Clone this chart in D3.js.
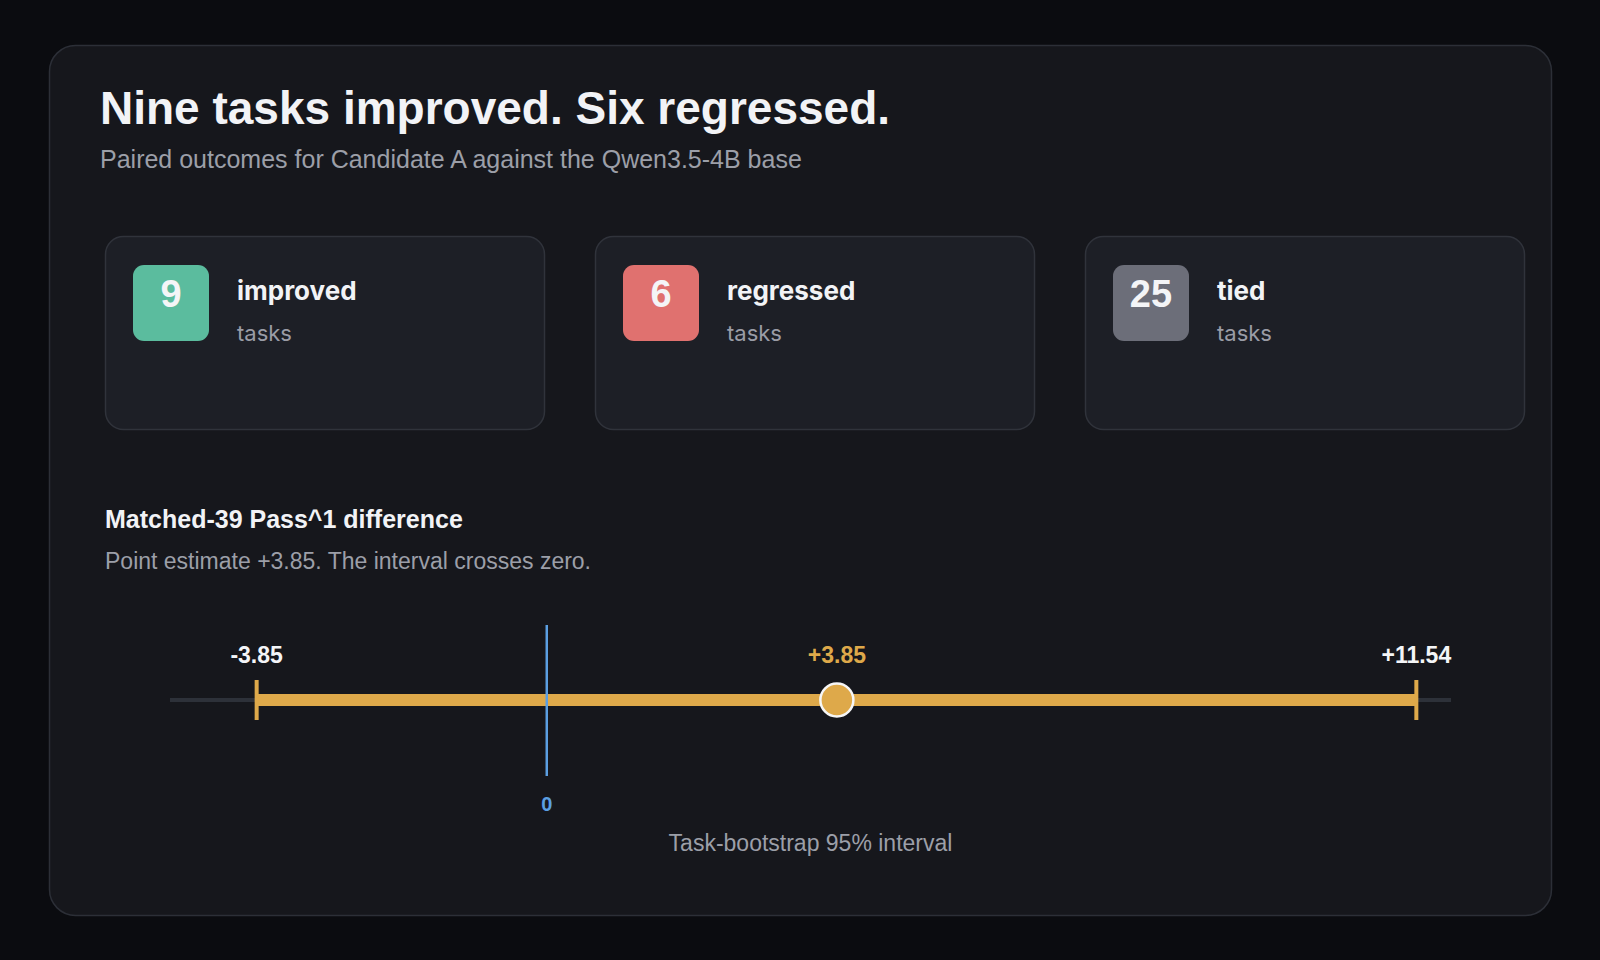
<!DOCTYPE html>
<html>
<head>
<meta charset="utf-8">
<script src="https://cdn.jsdelivr.net/npm/d3@7"></script>
<style>
  html, body { margin: 0; padding: 0; background: #0b0c10; }
  svg { display: block; }
</style>
</head>
<body>
<div id="chart"></div>
<script>
// outcome counts
const outcomeLabels = ["improved", "regressed", "tied"];
const outcomeCounts = [9, 6, 25];
const outcomeUnits = ["tasks", "tasks", "tasks"];
const outcomeColors = ["#5bbc9e", "#e0716f", "#6c6e79"];

// bootstrap interval (low, point, high)
const intervalValues = [-3.85, 3.85, 11.54];
const intervalLabels = ["-3.85", "+3.85", "+11.54"];
const axisDomain = [-5, 12];
const zeroValue = 0;

const W = 1600, H = 960;
const sans = "'Liberation Sans', Arial, Helvetica, sans-serif";
const inter = "Inter, 'Liberation Sans', Arial, sans-serif";

let svg = d3.select("#chart")
    .append("svg")
    .attr("width", W)
    .attr("height", H);

svg.append("rect")
    .attr("width", W).attr("height", H)
    .attr("fill", "#0b0c10");

// main panel
svg.append("rect")
    .attr("x", 49.5).attr("y", 45.5)
    .attr("width", 1502).attr("height", 870)
    .attr("rx", 26)
    .attr("fill", "#16171c")
    .attr("stroke", "#2c2f37")
    .attr("stroke-width", 1.5);

svg.append("text")
    .attr("x", 100).attr("y", 124)
    .attr("font-family", sans)
    .attr("font-size", 46)
    .attr("font-weight", 700)
    .attr("fill", "#f2f3f6")
    .text("Nine tasks improved. Six regressed.");

svg.append("text")
    .attr("x", 100).attr("y", 168)
    .attr("font-family", sans)
    .attr("font-size", 25)
    .attr("fill", "#9c9fa8")
    .text("Paired outcomes for Candidate A against the Qwen3.5-4B base");

// stat cards
let cardX = d3.scaleBand()
    .domain(outcomeLabels)
    .range([105, 1525])
    .paddingInner(50 / 490);

let cards = svg.selectAll("g.card")
    .data(outcomeLabels)
    .enter()
    .append("g")
    .attr("class", "card")
    .attr("transform", d => "translate(" + cardX(d) + ",236)");

cards.append("rect")
    .attr("x", 0.5).attr("y", 0.5)
    .attr("width", cardX.bandwidth() - 1)
    .attr("height", 193)
    .attr("rx", 18)
    .attr("fill", "#1d1f26")
    .attr("stroke", "#30333b")
    .attr("stroke-width", 1.5);

cards.append("rect")
    .attr("x", 28).attr("y", 29)
    .attr("width", 76).attr("height", 76)
    .attr("rx", 11)
    .attr("fill", (d, i) => outcomeColors[i]);

cards.append("text")
    .attr("x", 66).attr("y", 71)
    .attr("text-anchor", "middle")
    .attr("font-family", sans)
    .attr("font-size", 38)
    .attr("font-weight", 700)
    .attr("fill", "#f4f5f7")
    .text((d, i) => outcomeCounts[i]);

cards.append("text")
    .attr("x", 132).attr("y", 64)
    .attr("font-family", inter)
    .attr("font-size", 26)
    .attr("font-weight", 700)
    .attr("fill", "#f2f3f6")
    .text(d => d);

cards.append("text")
    .attr("x", 132).attr("y", 105)
    .attr("font-family", inter)
    .attr("font-size", 22)
    .attr("fill", "#9a9ca6")
    .text((d, i) => outcomeUnits[i]);

// interval section
svg.append("text")
    .attr("x", 105).attr("y", 528)
    .attr("font-family", sans)
    .attr("font-size", 25)
    .attr("font-weight", 700)
    .attr("fill", "#f2f3f6")
    .text("Matched-39 Pass^1 difference");

svg.append("text")
    .attr("x", 105).attr("y", 569)
    .attr("font-family", sans)
    .attr("font-size", 23)
    .attr("fill", "#9c9fa8")
    .text("Point estimate +3.85. The interval crosses zero.");

let x = d3.scaleLinear()
    .domain(axisDomain)
    .range([170, 1451]);

const yAxis = 700;

// track
svg.append("line")
    .attr("x1", x(axisDomain[0])).attr("x2", x(axisDomain[1]))
    .attr("y1", yAxis).attr("y2", yAxis)
    .attr("stroke", "#2d3139")
    .attr("stroke-width", 4);

// interval bar
svg.append("line")
    .attr("x1", x(intervalValues[0])).attr("x2", x(intervalValues[2]))
    .attr("y1", yAxis).attr("y2", yAxis)
    .attr("stroke", "#dea94a")
    .attr("stroke-width", 12);

// end caps
svg.selectAll("line.cap")
    .data([intervalValues[0], intervalValues[2]])
    .enter()
    .append("line")
    .attr("class", "cap")
    .attr("x1", d => x(d)).attr("x2", d => x(d))
    .attr("y1", yAxis - 20).attr("y2", yAxis + 20)
    .attr("stroke", "#dea94a")
    .attr("stroke-width", 4);

// zero reference
svg.append("line")
    .attr("x1", x(zeroValue)).attr("x2", x(zeroValue))
    .attr("y1", yAxis - 75).attr("y2", yAxis + 76)
    .attr("stroke", "#5b9fe2")
    .attr("stroke-width", 2.5);

svg.append("text")
    .attr("x", x(zeroValue)).attr("y", 811)
    .attr("text-anchor", "middle")
    .attr("font-family", sans)
    .attr("font-size", 20)
    .attr("font-weight", 700)
    .attr("fill", "#5b9fe2")
    .text(zeroValue);

// point estimate
svg.append("circle")
    .attr("cx", x(intervalValues[1])).attr("cy", yAxis)
    .attr("r", 16.5)
    .attr("fill", "#dea94a")
    .attr("stroke", "#f6f6f6")
    .attr("stroke-width", 2.5);

svg.selectAll("text.val")
    .data(intervalValues)
    .enter()
    .append("text")
    .attr("class", "val")
    .attr("x", d => x(d)).attr("y", 663)
    .attr("text-anchor", "middle")
    .attr("font-family", sans)
    .attr("font-size", 23)
    .attr("font-weight", 700)
    .attr("fill", (d, i) => i === 1 ? "#dea94a" : "#f4f5f7")
    .text((d, i) => intervalLabels[i]);

svg.append("text")
    .attr("x", (x.range()[0] + x.range()[1]) / 2).attr("y", 851)
    .attr("text-anchor", "middle")
    .attr("font-family", sans)
    .attr("font-size", 23)
    .attr("fill", "#9c9fa8")
    .text("Task-bootstrap 95% interval");
</script>
</body>
</html>
